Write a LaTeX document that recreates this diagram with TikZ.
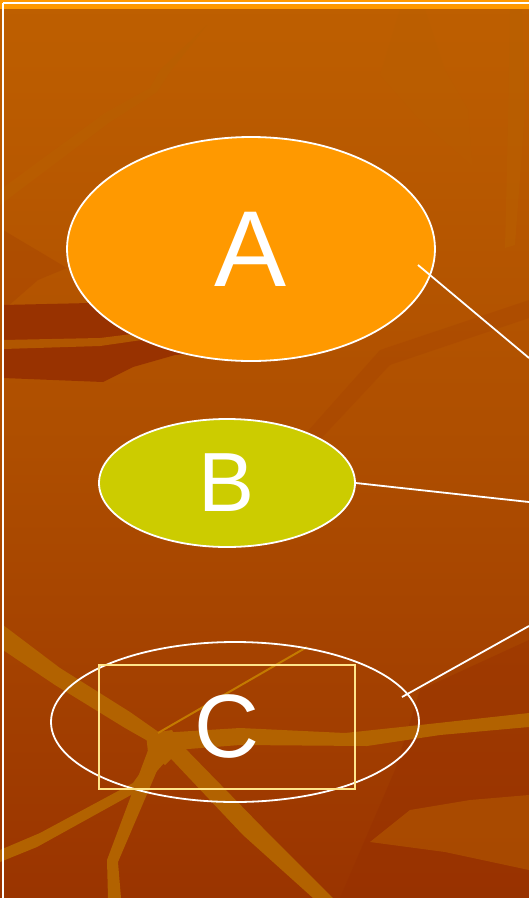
\documentclass[tikz,border=0pt]{standalone}
\usepackage{fontspec}
\setmainfont{Liberation Sans}
\usetikzlibrary{shapes.geometric}
\definecolor{bgtop}{HTML}{BE5F00}
\definecolor{bgmid}{HTML}{AE4E00}
\definecolor{bgbot}{HTML}{9A3400}
\definecolor{barorange}{HTML}{FF9900}
\definecolor{fillA}{HTML}{FF9900}
\definecolor{fillB}{HTML}{CCCC00}
\definecolor{rectcol}{HTML}{FFE58A}
\definecolor{streak}{HTML}{B26200}
\definecolor{thinstreak}{HTML}{C47A00}
\definecolor{darkpatch}{HTML}{962F00}
\definecolor{lightpatch}{HTML}{B86000}
\begin{document}
\begin{tikzpicture}[x=1pt,y=-1pt,
  bubble/.style={ellipse, draw=white, line width=1.8pt, inner sep=0pt, text=white},
  connector/.style={draw=white, line width=1.8pt},
  band/.style={fill=streak},
  dark/.style={fill=darkpatch, opacity=#1},
  light/.style={fill=lightpatch, opacity=#1}]
\useasboundingbox (0,0) rectangle (529,898);
% background gradient
\shade[top color=bgtop, bottom color=bgbot, middle color=bgmid] (0,0) rectangle (529,898);
% faint texture, top
\path[light=0.55] (207,25) -- (170,72) -- (157,92) -- (110,122) -- (0,205) -- (0,190) -- (105,113) -- (150,88) -- (160,70) -- cycle;
\path[light=0.5] (510,9) -- (522,9) -- (525,110) -- (515,245) -- (505,248) -- (508,125) -- cycle;
\path[light=0.25] (425,9) -- (445,70) -- (468,110) -- (472,165) -- (420,120) -- (380,75) -- (400,9) -- cycle;
\path[dark=0.2] (3,230) -- (67,268) -- (38,280) -- (7,307) -- (3,307) -- cycle;
\path[dark=0.15] (300,440) -- (380,350) -- (529,300) -- (529,318) -- (390,365) -- (315,445) -- cycle;
% dark band on the left
\path[dark=0.9] (3,305) -- (90,303) -- (160,300) -- (200,320) -- (240,350) -- (175,355) -- (133,367) -- (103,382) -- (3,378) -- cycle;
\path[light=0.8] (3,340) -- (100,338) -- (180,328) -- (190,333) -- (100,346) -- (3,349) -- cycle;
% lower right patches
\path[dark=0.4] (420,690) -- (529,640) -- (529,898) -- (340,898) -- (395,770) -- cycle;
\path[light=0.5] (370,842) -- (410,810) -- (470,800) -- (529,795) -- (529,870) -- (445,852) -- cycle;
% lower streaks
\path[band] (3,625) -- (60,668) -- (130,712) -- (160,733) -- (155,745) -- (125,728) -- (55,685) -- (3,650) -- cycle;
\path[band] (160,733) -- (240,728) -- (345,733) -- (420,725) -- (529,713) -- (529,727) -- (440,735) -- (367,746) -- (240,745) -- (175,750) -- cycle;
\path[band] (0,850) -- (40,833) -- (133,783) -- (155,752) -- (165,762) -- (140,790) -- (37,847) -- (0,862) -- cycle;
\path[band] (150,745) -- (165,752) -- (118,862) -- (121,898) -- (108,898) -- (107,860) -- cycle;
\path[band] (158,745) -- (180,743) -- (263,828) -- (333,898) -- (313,898) -- (243,835) -- cycle;
\path[band] (146,734) -- (172,730) -- (182,748) -- (165,765) -- (148,752) -- cycle;
\draw[thinstreak, line width=2pt] (158,733) -- (307,647);
% frame
\fill[barorange] (0,0) rectangle (529,9);
\draw[white, line width=1.6pt] (3,3) -- (529,3);
\draw[white, line width=1.6pt] (3,3) -- (3,898);
% nodes
\node[bubble, fill=fillA, minimum width=368pt, minimum height=224pt, font=\fontsize{108}{108}\selectfont] (A) at (251,249) {A};
\node[bubble, fill=fillB, minimum width=256pt, minimum height=128pt, font=\fontsize{84}{84}\selectfont] (B) at (227,483) {B};
\node[bubble, minimum width=368pt, minimum height=160pt] (C) at (235,722) {};
\node[draw=rectcol, line width=1.6pt, minimum width=256pt, minimum height=124pt, inner sep=0pt, text=white, font=\fontsize{90}{90}\selectfont] (R) at (227,727) {C};
% connectors
\coordinate (a1) at (418,265);
\coordinate (a2) at (529,358);
\coordinate (b2) at (529,502);
\coordinate (c1) at (402,697);
\coordinate (c2) at (529,626);
\draw[connector] (a1) -- (a2);
\draw[connector] (B.east) -- (b2);
\draw[connector] (c1) -- (c2);
\end{tikzpicture}
\end{document}
